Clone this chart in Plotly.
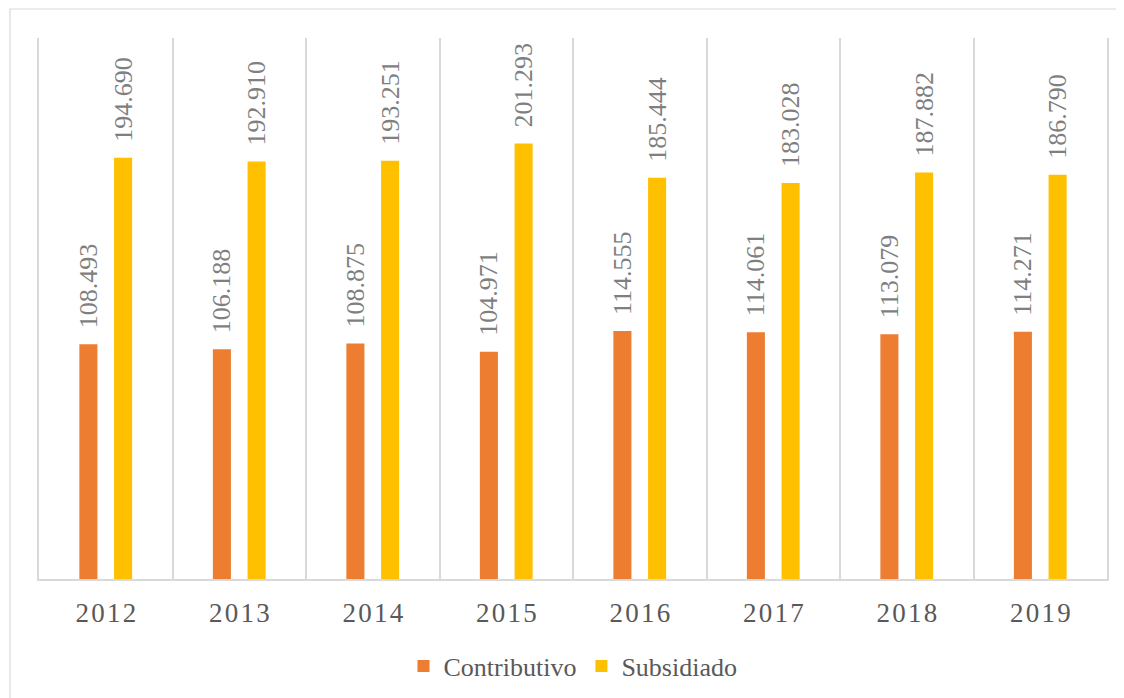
import plotly.graph_objects as go

years = ["2012", "2013", "2014", "2015", "2016", "2017", "2018", "2019"]
contributivo = [108493, 106188, 108875, 104971, 114555, 114061, 113079, 114271]
subsidiado = [194690, 192910, 193251, 201293, 185444, 183028, 187882, 186790]
year_ticktext = ["\u200a".join(y) for y in years]

FONT = "Liberation Serif, Times New Roman, serif"
LABEL_COLOR = "#7f7f7f"
TEXT_COLOR = "#595959"
GRID = "#d9d9d9"

fig = go.Figure()
for name, vals, color in [("Contributivo", contributivo, "#ED7D31"),
                          ("Subsidiado", subsidiado, "#FFC000")]:
    fig.add_trace(go.Bar(
        x=years, y=vals, name=name, marker_color=color, marker_line_width=0,
        texttemplate="\u00a0\u00a0%{y:,}", textposition="outside", textangle=-90,
        constraintext="none", cliponaxis=False,
        textfont=dict(family=FONT, size=26, color=LABEL_COLOR),
        hoverinfo="skip",
    ))

fig.update_layout(
    width=1116, height=690,
    margin=dict(l=31, r=17, t=30, b=119, autoexpand=False),
    paper_bgcolor="white", plot_bgcolor="white",
    separators=",.",
    barmode="group", bargap=0.48, bargroupgap=0.48,
    font=dict(family=FONT, color=TEXT_COLOR),
    showlegend=True,
    legend=dict(orientation="h", x=0.5, xanchor="center", y=-0.161, yanchor="middle",
                font=dict(family=FONT, size=26, color=TEXT_COLOR),
                itemclick=False, traceorder="normal"),
    xaxis=dict(type="category", tickson="boundaries", showgrid=True, gridcolor=GRID,
               gridwidth=1.5, showline=True, linecolor=GRID, linewidth=1.5,
               ticks="", tickvals=years, ticktext=year_ticktext, ticklabelstandoff=9,
               tickfont=dict(family=FONT, size=27, color=TEXT_COLOR), automargin=False,
               range=[-0.5, 7.5], zeroline=False),
    yaxis=dict(range=[0, 250000], showgrid=False, showticklabels=False, ticks="",
               zeroline=False, showline=True, mirror=True, linecolor=GRID, linewidth=1.5,
               automargin=False),
    shapes=[dict(type="rect", xref="paper", yref="paper",
                 x0=-0.02715, x1=1.1, y0=-0.5, y1=1.0536,
                 line=dict(color=GRID, width=1.2), fillcolor="rgba(0,0,0,0)", layer="below")],
)

fig.write_html("out.html")
